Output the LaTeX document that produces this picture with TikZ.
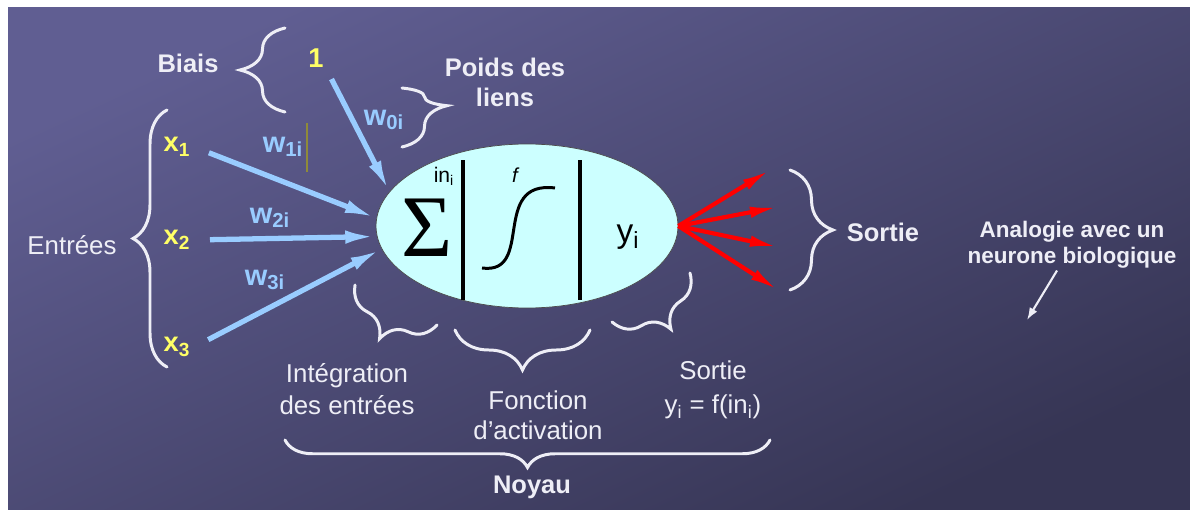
\documentclass[tikz,border=0pt]{standalone}
\usepackage{fontspec}
\setmainfont{Liberation Sans}
\newfontfamily\sigmafont{Liberation Serif}
\usetikzlibrary{arrows.meta,decorations.pathreplacing,shapes.geometric}

\definecolor{bgtop}{RGB}{96,94,146}
\definecolor{bgbottom}{RGB}{54,53,84}
\definecolor{labelwhite}{RGB}{238,238,246}
\definecolor{inyellow}{RGB}{255,255,102}
\definecolor{wblue}{RGB}{153,204,255}
\definecolor{cellcyan}{RGB}{204,255,255}
\definecolor{outred}{RGB}{255,0,0}

\begin{document}
\begin{tikzpicture}[
        x=0.02cm,
        y=-0.02cm,
        lbl/.style={text=labelwhite, font=\fontsize{14.7}{18}\selectfont, align=center, inner sep=1pt},
        blbl/.style={lbl, font=\fontsize{14.5}{17}\selectfont\bfseries},
        inp/.style={text=inyellow, font=\fontsize{15.5}{18}\selectfont\bfseries, inner sep=2pt},
        wgt/.style={text=wblue, font=\fontsize{16.5}{18}\selectfont\bfseries, inner sep=1pt},
        link/.style={wblue, line width=3pt, -{Latex[length=18pt,width=7.5pt]}},
        spike/.style={outred, line width=2.4pt, -{Latex[length=16pt,width=6.5pt]}},
        curly/.style={labelwhite, line width=1.7pt, line cap=round, decorate,
            decoration={brace, amplitude=#1}},
        bar/.style={line width=2.3pt}
    ]

    % Background
    \useasboundingbox (0,0) rectangle (1190,510);
    \fill[white] (0,0) rectangle (1190,510);
    \shade[top color=bgtop, bottom color=bgbottom, shading angle=25]
        (8,8) rectangle (1190,510);

    % Neuron body
    \node[ellipse, draw=black!70, fill=cellcyan, minimum width=6.04cm,
        minimum height=3.28cm, inner sep=0] (cell) at (527,226) {};
    \node[font=\sigmafont\fontsize{50}{50}\selectfont, inner sep=0] (sum) at (427,228) {Σ};
    \node[font=\fontsize{12}{12}\selectfont, inner sep=0] (ins) at (444,176) {in\textsubscript{i}};
    \draw[bar] (463,160) -- (463,300);
    \draw[bar] (580,160) -- (580,300);
    \node[font=\fontsize{11.5}{11.5}\selectfont\itshape, inner sep=0] (fname) at (515,175) {f};
    \draw[line width=1.7pt] (482,268) .. controls (535,275) and (490,180) .. (555,188);
    \node[font=\fontsize{19}{19}\selectfont, inner sep=0] (yout) at (628,237) {y\textsubscript{i}};

    % Bias
    \node[blbl] (biais) at (188,63) {Biais};
    \draw[curly=0.9cm] (285,112) -- (285,28);
    \node[inp] (one) at (316,58) {1};

    % Inputs
    \node[lbl] (entrees) at (72,245) {Entrées};
    \draw[curly=0.68cm] (167,367) -- (167,110);
    \node[inp] (x1) at (177,147) {x\textsubscript{1}};
    \node[inp] (x2) at (177,240) {x\textsubscript{2}};
    \node[inp] (x3) at (177,347) {x\textsubscript{3}};

    % Weights
    \node[blbl] (poids) at (505,82) {Poids des\\liens};
    \draw[curly=0.9cm, decoration={aspect=0.3}] (402,88) -- (402,147);
    \node[wgt] (w0) at (384,120) {w\textsubscript{0i}};
    \node[wgt] (w1) at (283,147) {w\textsubscript{1i}};
    \draw[olive!60!gray, line width=0.6pt] (307,123) -- (307,172);
    \node[wgt] (w2) at (270,218) {w\textsubscript{2i}};
    \node[wgt] (w3) at (265,280) {w\textsubscript{3i}};

    \draw[link, shorten <=5pt] (one.south east) -- (cell.166);
    \draw[link, shorten <=9pt] (x1.east) -- (cell.177);
    \draw[link, shorten <=9pt] (x2.east) -- (cell.184);
    \draw[link, shorten <=9pt] (x3.east) -- (cell.189);

    % Output
    \coordinate (o1) at (770,170);
    \coordinate (o2) at (778,207);
    \coordinate (o3) at (778,247);
    \coordinate (o4) at (778,290);
    \draw[spike] (cell.east) -- (o1);
    \draw[spike] (cell.east) -- (o2);
    \draw[spike] (cell.east) -- (o3);
    \draw[spike] (cell.east) -- (o4);
    \draw[curly=0.86cm] (790,170) -- (790,290);
    \node[blbl] (sortie) at (883,232) {Sortie};

    % Parts of the kernel
    \draw[curly=0.75cm] (437,325) -- (355,285);
    \node[lbl] (integ) at (347,389) {Intégration\\des entrées};
    \draw[curly=0.8cm] (590,330) -- (455,330);
    \node[lbl, font=\fontsize{14.7}{17}\selectfont] (fonct) at (538,415) {Fonction\\d’activation};
    \draw[curly=0.75cm] (690,273) -- (612,322);
    \node[lbl, font=\fontsize{14.7}{19.5}\selectfont] (sortieb) at (713,390)
        {Sortie\\y\textsubscript{i} = f(in\textsubscript{i})};
    \draw[curly=0.55cm] (770,440) -- (285,440);
    \node[blbl] (noyau) at (532,487) {Noyau};

    % Analogy
    \node[blbl, font=\fontsize{12.8}{14.7}\selectfont\bfseries] (analogie) at (1072,245)
        {Analogie avec un\\neurone biologique};
    \coordinate (neuron) at (1027,320);
    \draw[labelwhite, line width=1.2pt, -{Latex[length=7pt,width=5pt]}]
        ([xshift=-0.3cm]analogie.south) -- (neuron);

\end{tikzpicture}
\end{document}
